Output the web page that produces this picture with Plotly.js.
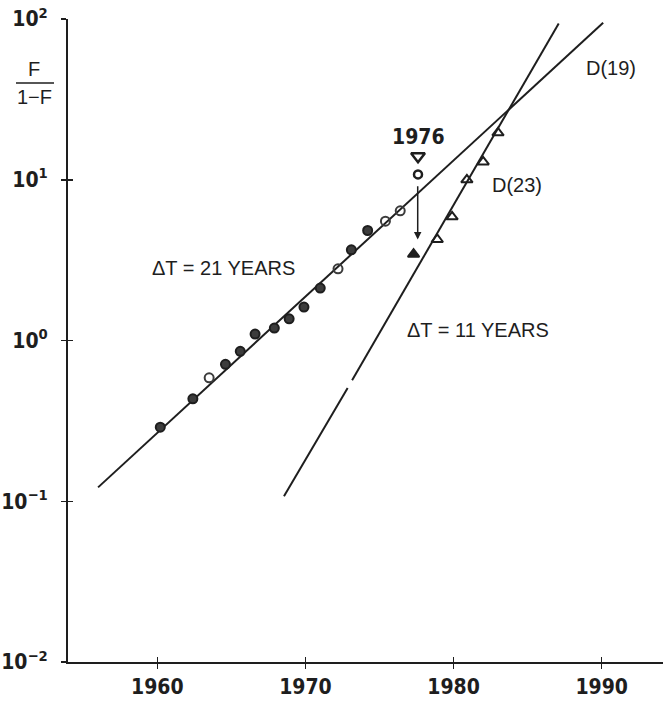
<!DOCTYPE html>
<html>
<head>
<meta charset="utf-8">
<script src="https://cdn.plot.ly/plotly-3.0.1.min.js"></script>
<style>
  html, body { margin: 0; padding: 0; background: #fff; }
  #chart { width: 663px; height: 701px; }
</style>
</head>
<body>
<div id="chart"></div>
<script>
// Fisher–Pry substitution plot: F/(1-F) on a log scale against year.

// Circles: the slower substitution, D(19)
const circleYears  = [1960.2, 1962.4, 1963.5, 1964.6, 1965.6, 1966.6, 1967.9, 1968.9,
                      1969.9, 1971.0, 1972.2, 1973.1, 1974.2, 1975.4, 1976.4];
const circleValues = [0.289, 0.434, 0.586, 0.711, 0.857, 1.097, 1.194, 1.364,
                      1.614, 2.118, 2.793, 3.665, 4.833, 5.52, 6.41];

// The 1976 circle and its open triangle, above the D(19) line
const year1976 = [1977.6];
const circle1976Value = [10.8];
const triangle1976Value = [14.0];

// Triangles: the faster substitution, D(23)
const triangleYears  = [1977.3, 1978.9, 1979.9, 1980.9, 1982.0, 1983.0];
const triangleValues = [3.44, 4.25, 5.88, 9.99, 12.9, 19.6];

// Fitted lines (end points)
const fit19Years  = [1956.0, 1990.1];
const fit19Values = [0.122, 94.7];
const fit23Years  = [1968.55, 1972.85, null, 1973.15, 1987.1];
const fit23Values = [0.1075, 0.506, null, 0.566, 93.8];

// Axis ticks
const xTickVals = [1960, 1970, 1980, 1990];
const xTickText = ['1960', '1970', '1980', '1990'];
const yTickVals = [0.01, 0.1, 1, 10, 100];
const yTickText = ['10<sup>−2</sup>', '10<sup>−1</sup>', '10<sup>0</sup>', '10<sup>1</sup>', '10<sup>2</sup>'];

const INK = '#1e1e1e';
const NARROW = 'Liberation Sans Narrow, DejaVu Sans Condensed, Arial Narrow, sans-serif';
const PLAIN = 'Liberation Sans, Arial, sans-serif';
const X_RANGE = [1953.97, 1994.14];
const Y_RANGE = [-2, 2];

const openCircle = new Set([2, 10, 13, 14]);
const circleSymbols = circleYears.map((_, i) => openCircle.has(i) ? 'circle-open' : 'circle');

const traces = [
  { x: fit19Years, y: fit19Values, mode: 'lines', line: { color: INK, width: 2 },
    hoverinfo: 'skip', showlegend: false },
  { x: fit23Years, y: fit23Values, mode: 'lines', connectgaps: false,
    line: { color: INK, width: 2 }, hoverinfo: 'skip', showlegend: false },
  { x: circleYears, y: circleValues, mode: 'markers', showlegend: false,
    marker: { symbol: circleSymbols, size: 9, color: '#3c3c3c', line: { color: INK, width: 2 } } },
  { x: year1976, y: circle1976Value, mode: 'markers', showlegend: false,
    marker: { symbol: 'circle-open', size: 8, color: INK, line: { width: 2.5 } } },
  { x: year1976, y: triangle1976Value, mode: 'markers', showlegend: false,
    marker: { symbol: 'triangle-down-open', size: 12, color: INK, line: { width: 2.5 } } },
  { x: triangleYears, y: triangleValues, mode: 'markers', showlegend: false,
    marker: { symbol: triangleYears.map((_, i) => i === 0 ? 'triangle-up' : 'triangle-up-open'),
              size: 10, color: INK, line: { color: INK, width: 2 } } },
  // carries the inner half of the cross ticks
  { x: [], y: [], xaxis: 'x2', yaxis: 'y2', showlegend: false, hoverinfo: 'skip' }
];

const tickFont = { family: NARROW, size: 21, color: INK, weight: 'bold' };
const textFont = { family: PLAIN, size: 20, color: INK };

function lg(v) { return Math.log10(v); }

const layout = {
  width: 663, height: 701,
  margin: { l: 68, r: 0, t: 19, b: 39, pad: 0 },
  paper_bgcolor: '#fff', plot_bgcolor: '#fff',
  showlegend: false,
  xaxis: {
    range: X_RANGE, showgrid: false, zeroline: false,
    showline: true, linecolor: INK, linewidth: 2,
    ticks: 'outside', ticklen: 5, tickwidth: 1.5, tickcolor: INK,
    tickvals: xTickVals, ticktext: xTickText, tickfont: tickFont,
    ticklabelstandoff: 0
  },
  yaxis: {
    type: 'log', range: Y_RANGE, showgrid: false, zeroline: false,
    showline: true, linecolor: INK, linewidth: 2,
    ticks: 'outside', ticklen: 5, tickwidth: 1.5, tickcolor: INK,
    tickvals: yTickVals, ticktext: yTickText, tickfont: tickFont,
    ticklabelstandoff: 9
  },
  xaxis2: {
    overlaying: 'x', anchor: 'y2', range: X_RANGE, showgrid: false, zeroline: false,
    showline: false, ticks: 'inside', ticklen: 5, tickwidth: 1.5, tickcolor: INK,
    tickvals: xTickVals, showticklabels: false
  },
  yaxis2: {
    overlaying: 'y', anchor: 'x2', type: 'log', range: Y_RANGE, showgrid: false, zeroline: false,
    showline: false, ticks: 'inside', ticklen: 5, tickwidth: 1.5, tickcolor: INK,
    tickvals: yTickVals, showticklabels: false
  },
  shapes: [
    // fraction bar of the y-axis title
    { type: 'line', xref: 'paper', yref: 'paper', x0: -0.0874, x1: -0.0235, y0: 0.9004, y1: 0.9004,
      line: { color: INK, width: 1.5 } }
  ],
  annotations: [
    { xref: 'paper', yref: 'paper', x: -0.0572, y: 0.922, text: 'F', showarrow: false,
      xanchor: 'center', yanchor: 'middle', font: textFont },
    { xref: 'paper', yref: 'paper', x: -0.0555, y: 0.878, text: '1−F', showarrow: false,
      xanchor: 'center', yanchor: 'middle', font: textFont },
    { x: 1959.5, y: 0.452, text: 'ΔT = 21 YEARS', showarrow: false,
      xanchor: 'left', yanchor: 'middle', font: textFont },
    { x: 1976.72, y: 0.0666, text: 'ΔT = 11 YEARS', showarrow: false,
      xanchor: 'left', yanchor: 'middle', font: textFont },
    { x: 1982.45, y: 0.970, text: 'D(23)', showarrow: false,
      xanchor: 'left', yanchor: 'middle', font: textFont },
    { x: 1988.8, y: 1.693, text: 'D(19)', showarrow: false,
      xanchor: 'left', yanchor: 'middle', font: textFont },
    { x: year1976[0], y: 1.267, text: '1976', showarrow: false,
      xanchor: 'center', yanchor: 'middle', font: tickFont },
    // the 1976 point drops from the D(19) curve to the D(23) curve
    { x: 1977.58, y: lg(4.25), ax: 1977.58, ay: lg(9.3), axref: 'x', ayref: 'y',
      text: '', showarrow: true, arrowhead: 2, arrowsize: 1, arrowwidth: 1.5, arrowcolor: INK,
      standoff: 0, startstandoff: 0 }
  ]
};

Plotly.newPlot('chart', traces, layout, { staticPlot: true, displayModeBar: false });
</script>
</body>
</html>
